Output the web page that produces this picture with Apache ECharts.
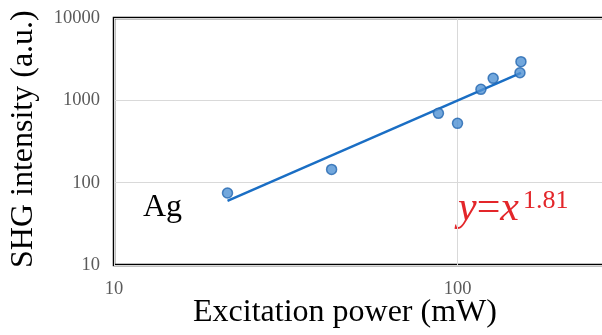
<!DOCTYPE html>
<html>
<head>
<meta charset="utf-8">
<script src="https://cdn.jsdelivr.net/npm/echarts@6/dist/echarts.min.js"></script>
<style>
  html, body { margin: 0; padding: 0; background: #fff; }
  #chart { width: 602px; height: 335px; }
</style>
</head>
<body>
<div id="chart"></div>
<script>
// measured points (Ag)
var power = [21.4, 43, 88, 100, 117, 127, 152, 153];
var intensity = [75, 145, 695, 525, 1360, 1850, 2160, 2950];
// fitted line end points
var fitPower = [21.4, 153];
var fitIntensity = [60, 2150];

var serif = 'Liberation Serif';

var points = power.map(function (p, i) { return [p, intensity[i]]; });
var fit = fitPower.map(function (p, i) { return [p, fitIntensity[i]]; });

function plain(v) { return String(Math.round(v)); }

var chart = echarts.init(document.getElementById('chart'));
chart.setOption({
    animation: false,
    grid: {
        left: 114, top: 18, width: 687, height: 247,
        outerBoundsMode: 'none',
        containLabel: false,
        show: true, borderColor: '#000', borderWidth: 2.5
    },
    xAxis: {
        type: 'log', logBase: 10, min: 10, max: 1000,
        axisLine: { show: false },
        axisTick: { show: false },
        axisLabel: { color: '#5a5a5a', fontFamily: serif, fontSize: 18.5, margin: 15, formatter: plain },
        splitLine: { lineStyle: { color: '#d9d9d9', width: 1 } }
    },
    yAxis: {
        type: 'log', logBase: 10, min: 10, max: 10000,
        axisLine: { show: false },
        axisTick: { show: false },
        axisLabel: { color: '#5a5a5a', fontFamily: serif, fontSize: 18.5, margin: 14, formatter: plain },
        splitLine: { lineStyle: { color: '#d9d9d9', width: 1 } }
    },
    series: [
        {
            type: 'line',
            data: fit,
            symbol: 'none',
            lineStyle: { color: '#1a6ec4', width: 2.5 },
            z: 2
        },
        {
            type: 'scatter',
            data: points,
            symbol: 'circle',
            symbolSize: 10,
            itemStyle: { color: '#4f91d3', borderColor: '#2366b0', borderWidth: 1.5 },
            z: 3
        }
    ],
    graphic: [
        {
            type: 'text', left: 143, top: 192,
            style: { text: 'Ag', fontFamily: serif, fontSize: 32, fill: '#000' }
        },
        {
            type: 'text', left: 458, top: 188,
            style: {
                text: '{i|y}={i|x}',
                fontFamily: serif, fontSize: 42, fill: '#e3262a',
                rich: { i: { fontStyle: 'italic', fontFamily: serif, fontSize: 42, fill: '#e3262a' } }
            }
        },
        {
            type: 'text', left: 523, top: 188,
            style: { text: '1.81', fontFamily: serif, fontSize: 26, fill: '#e3262a' }
        },
        {
            type: 'text', left: 193, top: 297,
            style: { text: 'Excitation power (mW)', fontFamily: serif, fontSize: 32, fill: '#000' }
        },
        {
            type: 'text', x: 8, y: 268, rotation: Math.PI / 2,
            style: { text: 'SHG intensity (a.u.)', fontFamily: serif, fontSize: 32, fill: '#000' }
        }
    ]
});
</script>
</body>
</html>
